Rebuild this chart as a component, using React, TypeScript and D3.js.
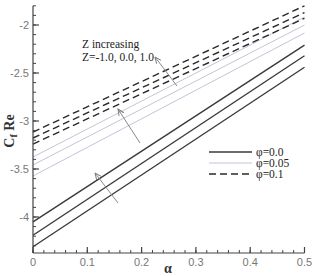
import React from 'react';
import * as d3 from 'd3';

// alpha at the two ends of every line
const ALPHA = [0, 0.5];

// Z = -1.0, 0.0, 1.0 (bottom to top), values at alpha = 0 and 0.5
const PHI00 = [
  [-4.31, -2.44],
  [-4.19, -2.32],
  [-4.05, -2.21],
];
const PHI005 = [
  [-3.573, -2.083],
  [-3.458, -2.0],
  [-3.375, -1.917],
];
const PHI01 = [
  [-3.24, -1.93],
  [-3.177, -1.87],
  [-3.115, -1.8],
];

const X_TICKS = [0, 0.1, 0.2, 0.3, 0.4, 0.5];
const Y_TICKS = [-4, -3.5, -3, -2.5, -2];
const LEGEND = ['φ=0.0', 'φ=0.05', 'φ=0.1'];

const STYLES = [
  { stroke: '#3a3a3a', width: 1.4, dash: null },
  { stroke: '#c4c4da', width: 1, dash: null },
  { stroke: '#2a2a2a', width: 1.4, dash: '7,4' },
];

const width = 314, height = 276;

const App = () => {
  const x = d3.scaleLinear().domain([0, 0.5]).range([33, 304.5]);
  const y = d3.scaleLinear().domain([-4.375, -1.8]).range([253, 5.8]);
  const line = d3.line<number>().x((_, i) => x(ALPHA[i])).y(d => y(d));

  const xMinor = d3.range(0, 0.5001, 0.02);
  const yMinor = d3.range(-4.3, -1.79, 0.1);
  const groups = [PHI00, PHI005, PHI01];

  const arrows = [
    { x1: 177, y1: 86, x2: 155, y2: 57 },
    { x1: 140, y1: 143, x2: 118, y2: 109 },
    { x1: 118, y1: 203, x2: 95, y2: 173 },
  ];

  return (
    <div style={{ position: 'fixed', left: 0, top: 0 }}>
      <svg width={width} height={height} style={{ display: 'block', background: '#fff' }}>
        <defs>
          <marker id="ah" viewBox="0 0 10 10" refX="9" refY="5" markerWidth="7" markerHeight="7" orient="auto">
            <path d="M0,1 L9,5 L0,9" fill="none" stroke="#777" strokeWidth="1.3" />
          </marker>
        </defs>

        {/* curves */}
        {groups.map((g, gi) => g.map((vals, li) => (
          <path
            key={`${gi}-${li}`}
            d={line(vals) || ''}
            fill="none"
            stroke={STYLES[gi].stroke}
            strokeWidth={STYLES[gi].width}
            strokeDasharray={STYLES[gi].dash || undefined}
          />
        )))}

        {/* arrows */}
        {arrows.map((a, i) => (
          <line key={i} x1={a.x1} y1={a.y1} x2={a.x2} y2={a.y2} stroke="#888" strokeWidth={1} markerEnd="url(#ah)" />
        ))}

        <text x={82} y={48} fontFamily="Liberation Serif" fontSize={11.5} fill="#222">Z increasing</text>
        <text x={82} y={61} fontFamily="Liberation Serif" fontSize={11.5} fill="#222">Z=-1.0, 0.0, 1.0</text>

        {/* x axis */}
        <line x1={x(0)} x2={x(0.5)} y1={y(-4.375)} y2={y(-4.375)} stroke="#444" strokeWidth={1.2} />
        {xMinor.map(t => (
          <line key={t} x1={x(t)} x2={x(t)} y1={253} y2={250} stroke="#444" />
        ))}
        {X_TICKS.map(t => (
          <g key={t}>
            <line x1={x(t)} x2={x(t)} y1={253} y2={247} stroke="#444" strokeWidth={1.2} />
            <text x={x(t)} y={266} textAnchor="middle" fontFamily="Liberation Sans" fontSize={11} fill="#777">{t}</text>
          </g>
        ))}

        {/* y axis */}
        <line x1={33} x2={33} y1={253} y2={y(-1.8)} stroke="#444" strokeWidth={1.2} />
        {yMinor.map(t => (
          <line key={t} x1={33} x2={36} y1={y(t)} y2={y(t)} stroke="#444" />
        ))}
        {Y_TICKS.map(t => (
          <g key={t}>
            <line x1={33} x2={39} y1={y(t)} y2={y(t)} stroke="#444" strokeWidth={1.2} />
            <text x={29} y={y(t) + 4} textAnchor="end" fontFamily="Liberation Sans" fontSize={11} fill="#777">{t}</text>
          </g>
        ))}

        {/* axis titles */}
        <text x={168} y={273} textAnchor="middle" fontFamily="Liberation Serif" fontSize={14} fontWeight="bold" fill="#333">α</text>
        <text transform="translate(14,131) rotate(-90)" textAnchor="middle" fontFamily="Liberation Serif" fontSize={14} fontWeight="bold" fill="#333">
          C<tspan fontSize={10} dy={3}>f</tspan><tspan dy={-3}> Re</tspan>
        </text>

        {/* legend */}
        {LEGEND.map((l, i) => (
          <g key={l} transform={`translate(0,${152 + i * 11})`}>
            <line x1={209} x2={252} y1={0} y2={0} stroke={STYLES[i].stroke} strokeWidth={STYLES[i].width} strokeDasharray={STYLES[i].dash || undefined} />
            <text x={256} y={4} fontFamily="Liberation Serif" fontSize={11.5} fill="#222">{l}</text>
          </g>
        ))}
      </svg>
    </div>
  );
};

export default App;
